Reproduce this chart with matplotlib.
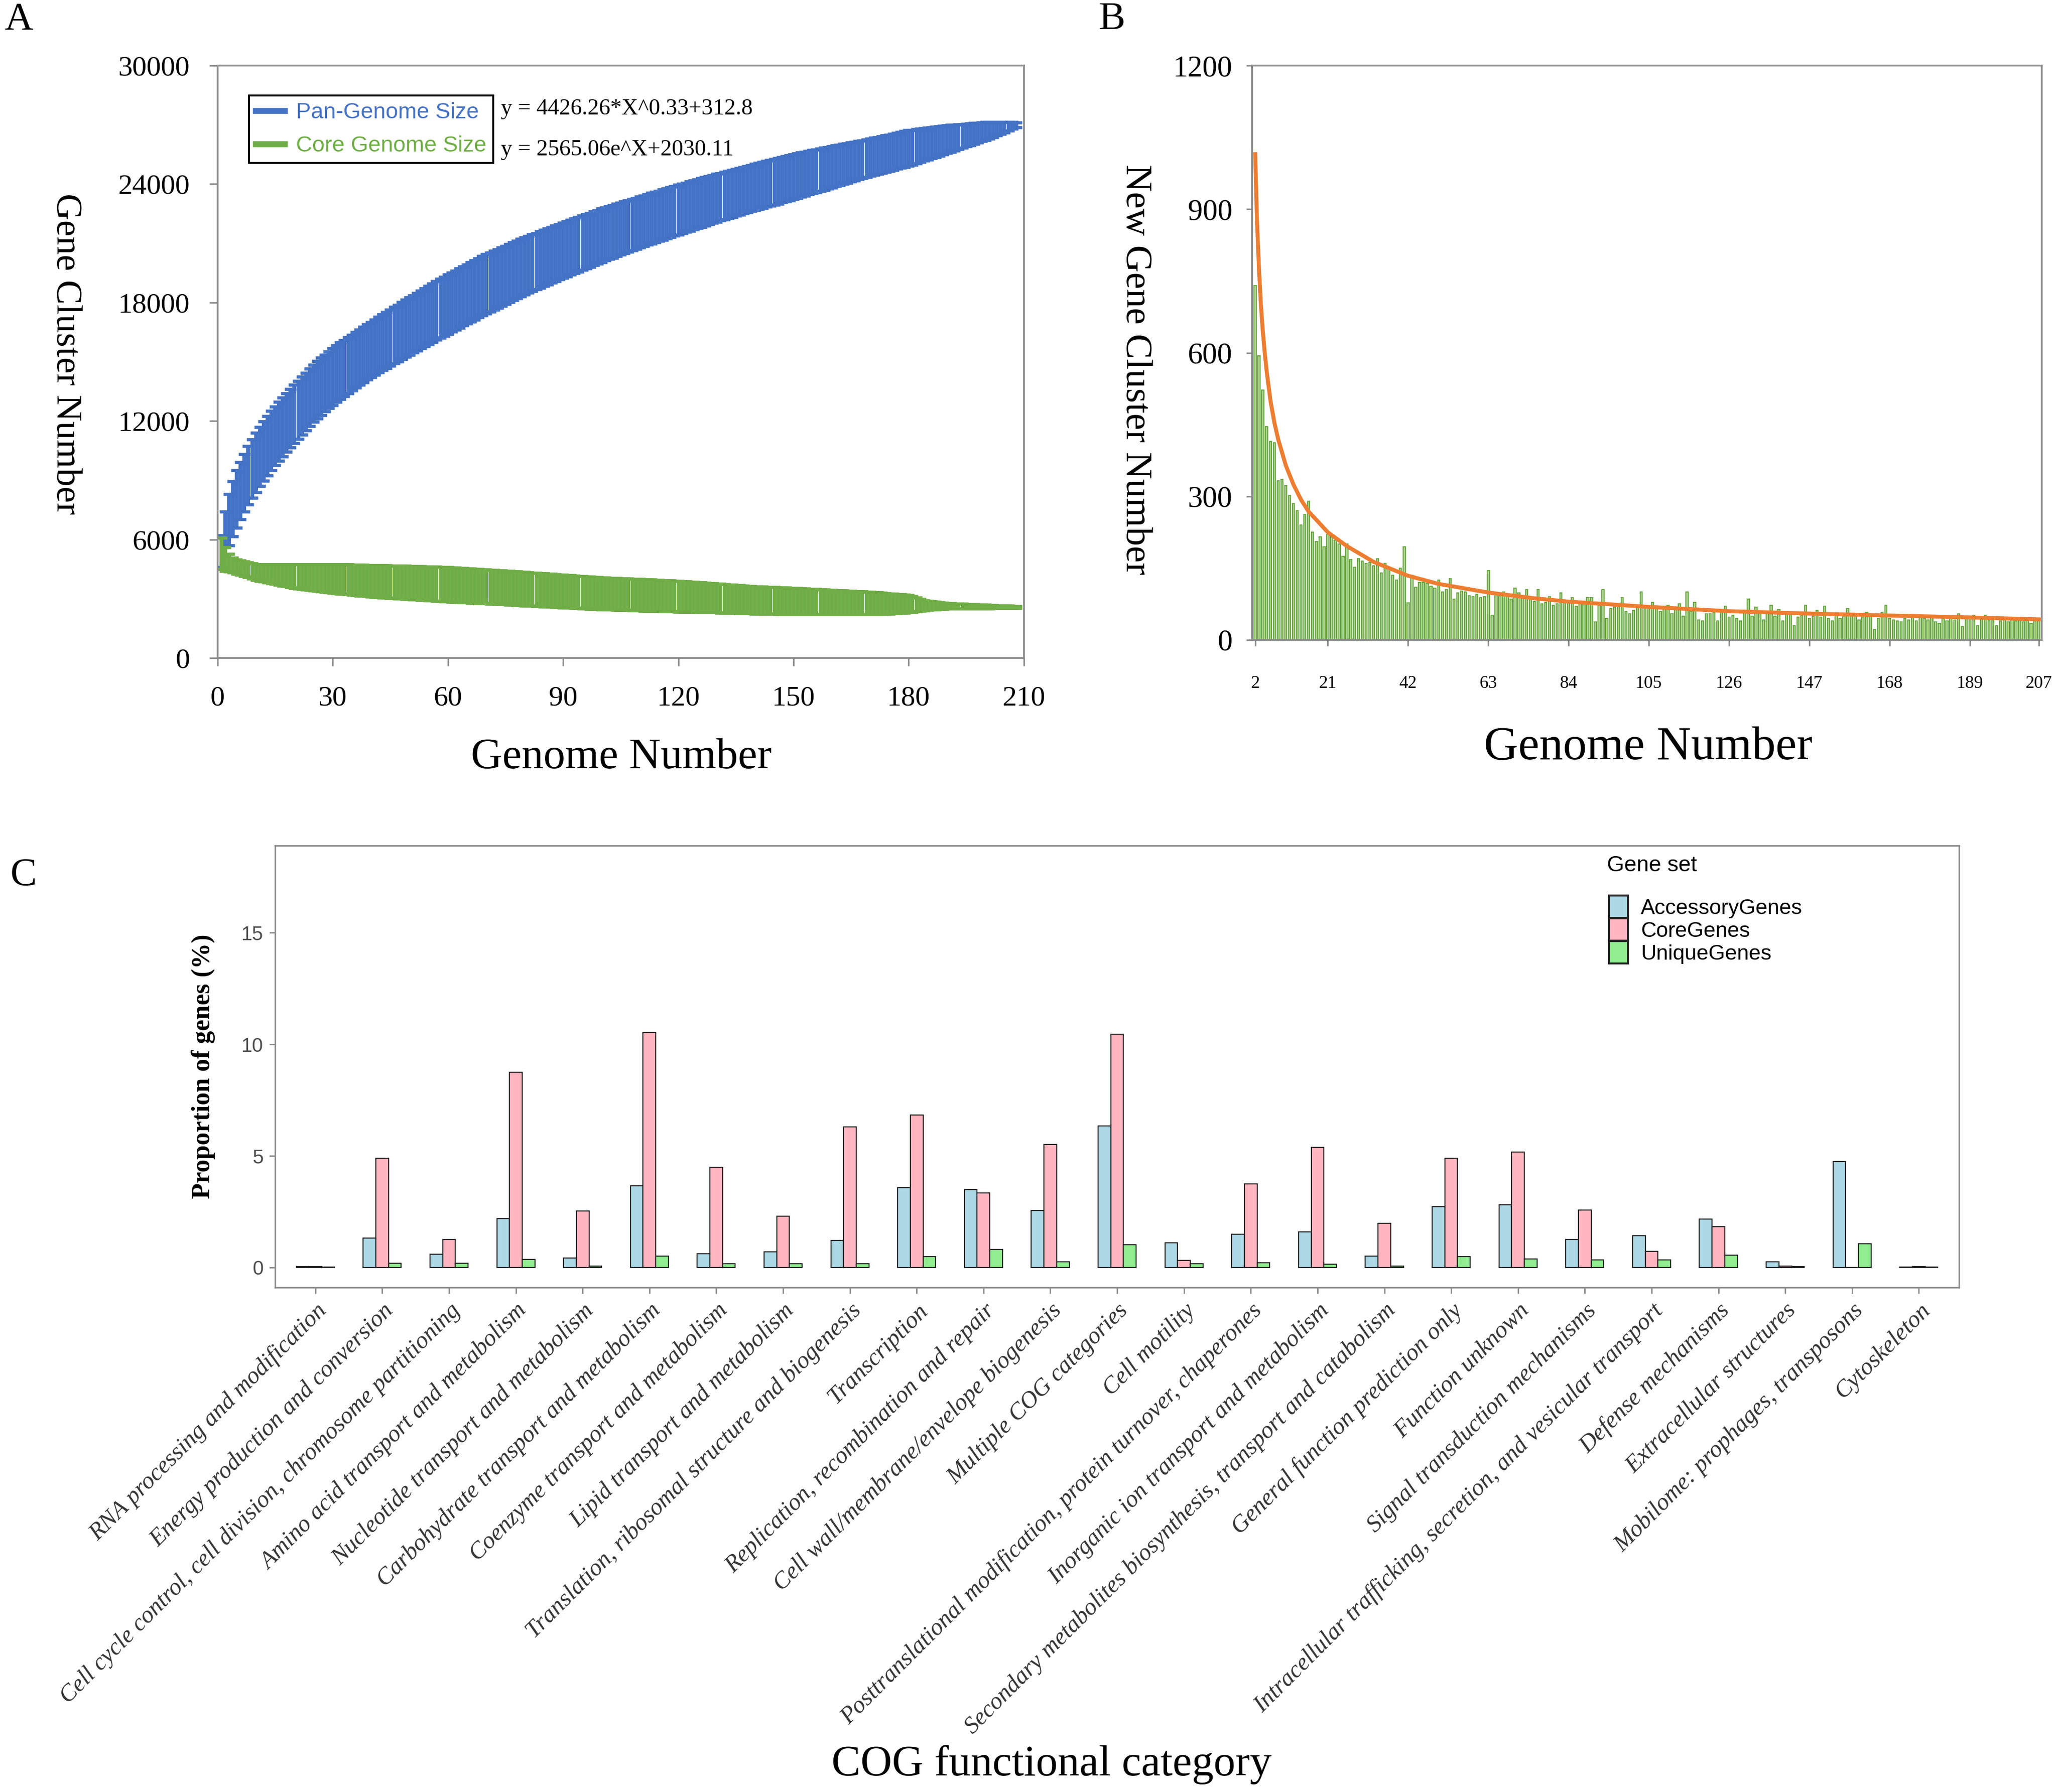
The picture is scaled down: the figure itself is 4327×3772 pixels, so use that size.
import numpy as np
import matplotlib
matplotlib.use('Agg')
import matplotlib.pyplot as plt
from matplotlib.lines import Line2D

plt.rcParams['font.family'] = 'Liberation Serif'
SANS = 'Liberation Sans'

# ---------------------------------------------------------------------------
# panel A: pan / core genome size (mean and spread per genome number 1..208)
pan_mean = [5400, 6300, 7000, 7550, 8050, 8470, 8870, 9250, 9580, 9900,
            10200, 10480, 10750, 11010, 11250, 11480, 11700, 11920, 12140, 12350,
            12560, 12770, 12980, 13190, 13400, 13580, 13750, 13920, 14090, 14250,
            14400, 14540, 14680, 14820, 14960, 15100, 15230, 15360, 15490, 15620,
            15740, 15860, 15980, 16100, 16220, 16340, 16450, 16570, 16690, 16800,
            16910, 17020, 17140, 17250, 17360, 17470, 17590, 17700, 17810, 17920,
            18020, 18120, 18230, 18330, 18430, 18530, 18640, 18740, 18850, 18950,
            19040, 19130, 19220, 19310, 19400, 19490, 19580, 19670, 19760, 19850,
            19930, 20010, 20090, 20170, 20250, 20330, 20410, 20490, 20570, 20650,
            20720, 20800, 20870, 20950, 21020, 21100, 21170, 21250, 21320, 21400,
            21470, 21540, 21600, 21670, 21740, 21810, 21880, 21940, 22010, 22080,
            22140, 22200, 22270, 22330, 22390, 22450, 22510, 22580, 22640, 22700,
            22760, 22820, 22880, 22940, 23000, 23060, 23120, 23180, 23240, 23300,
            23350, 23410, 23460, 23520, 23570, 23630, 23680, 23740, 23790, 23850,
            23900, 23950, 24010, 24060, 24110, 24160, 24210, 24270, 24320, 24370,
            24420, 24470, 24520, 24570, 24620, 24670, 24720, 24770, 24820, 24870,
            24920, 24970, 25010, 25060, 25110, 25160, 25210, 25250, 25300, 25350,
            25400, 25440, 25490, 25540, 25580, 25630, 25680, 25730, 25770, 25820,
            25860, 25910, 25950, 26000, 26040, 26090, 26130, 26180, 26220, 26270,
            26310, 26350, 26390, 26430, 26470, 26520, 26560, 26600, 26640, 26680,
            26720, 26760, 26800, 26840, 26880, 26920, 26960, 27000]
pan_err = [800, 1100, 1300, 1400, 1450, 1450, 1460, 1470, 1480, 1500,
           1500, 1500, 1500, 1500, 1490, 1490, 1490, 1480, 1480, 1480,
           1470, 1470, 1460, 1460, 1450, 1450, 1450, 1440, 1440, 1440,
           1430, 1430, 1420, 1420, 1410, 1400, 1400, 1400, 1400, 1400,
           1400, 1410, 1410, 1420, 1420, 1430, 1430, 1440, 1440, 1450,
           1450, 1460, 1460, 1470, 1470, 1480, 1480, 1490, 1490, 1500,
           1500, 1500, 1500, 1500, 1500, 1500, 1500, 1500, 1500, 1500,
           1490, 1490, 1480, 1480, 1470, 1470, 1460, 1460, 1450, 1450,
           1440, 1440, 1430, 1430, 1420, 1420, 1410, 1410, 1400, 1400,
           1390, 1390, 1380, 1380, 1370, 1370, 1360, 1360, 1350, 1350,
           1340, 1340, 1330, 1320, 1320, 1310, 1300, 1300, 1290, 1290,
           1280, 1280, 1280, 1270, 1270, 1270, 1260, 1260, 1260, 1260,
           1250, 1250, 1240, 1240, 1230, 1230, 1220, 1220, 1210, 1210,
           1200, 1200, 1190, 1190, 1180, 1180, 1170, 1170, 1160, 1160,
           1160, 1160, 1150, 1150, 1150, 1150, 1140, 1140, 1140, 1140,
           1130, 1120, 1110, 1100, 1090, 1080, 1070, 1060, 1050, 1040,
           1030, 1020, 1010, 1000, 990, 980, 970, 960, 950, 940,
           935, 930, 925, 920, 915, 910, 910, 905, 905, 900,
           880, 860, 840, 820, 800, 780, 760, 740, 720, 700,
           680, 650, 620, 600, 570, 550, 520, 500, 470, 450,
           420, 380, 340, 300, 260, 220, 170, 120]
core_mean = [5300, 5000, 4820, 4710, 4630, 4570, 4510, 4460, 4400, 4350,
             4330, 4310, 4290, 4270, 4250, 4230, 4210, 4190, 4170, 4145,
             4130, 4120, 4110, 4100, 4085, 4075, 4060, 4050, 4035, 4025,
             4010, 4000, 3990, 3980, 3965, 3955, 3940, 3930, 3915, 3905,
             3895, 3885, 3880, 3870, 3860, 3850, 3840, 3835, 3825, 3815,
             3805, 3795, 3790, 3780, 3770, 3760, 3750, 3745, 3735, 3725,
             3715, 3700, 3690, 3680, 3670, 3660, 3645, 3635, 3625, 3615,
             3600, 3590, 3580, 3570, 3560, 3550, 3535, 3525, 3515, 3505,
             3490, 3480, 3470, 3455, 3445, 3430, 3420, 3410, 3395, 3385,
             3370, 3360, 3350, 3335, 3325, 3310, 3300, 3290, 3275, 3265,
             3260, 3250, 3245, 3235, 3230, 3220, 3215, 3210, 3200, 3195,
             3185, 3180, 3170, 3165, 3160, 3150, 3145, 3135, 3130, 3120,
             3110, 3100, 3090, 3085, 3075, 3065, 3055, 3045, 3040, 3030,
             3020, 3010, 3000, 2990, 2985, 2975, 2965, 2955, 2945, 2935,
             2930, 2925, 2915, 2910, 2905, 2900, 2895, 2885, 2880, 2875,
             2870, 2865, 2860, 2855, 2850, 2845, 2840, 2835, 2830, 2825,
             2820, 2815, 2810, 2805, 2800, 2795, 2790, 2785, 2780, 2775,
             2770, 2765, 2760, 2760, 2755, 2755, 2750, 2750, 2745, 2740,
             2720, 2700, 2680, 2665, 2660, 2655, 2650, 2645, 2640, 2640,
             2635, 2630, 2625, 2620, 2620, 2615, 2610, 2605, 2600, 2600,
             2595, 2595, 2590, 2590, 2585, 2585, 2580, 2580]
core_err = [800, 600, 450, 380, 360, 360, 370, 380, 390, 400,
            420, 440, 460, 480, 500, 520, 540, 560, 580, 600,
            610, 625, 640, 650, 665, 675, 690, 700, 715, 725,
            730, 740, 745, 755, 760, 770, 775, 785, 790, 800,
            805, 810, 815, 820, 820, 825, 830, 835, 835, 840,
            840, 845, 850, 850, 855, 855, 860, 860, 865, 865,
            865, 865, 865, 865, 860, 860, 860, 860, 860, 855,
            855, 855, 855, 850, 850, 850, 850, 850, 845, 845,
            845, 840, 840, 840, 835, 835, 830, 830, 825, 825,
            820, 820, 820, 815, 815, 815, 810, 810, 805, 805,
            805, 805, 800, 800, 800, 795, 795, 795, 795, 790,
            790, 790, 790, 785, 785, 785, 785, 780, 780, 780,
            775, 770, 765, 760, 755, 750, 745, 740, 735, 730,
            725, 720, 715, 710, 705, 700, 695, 690, 690, 685,
            683, 681, 679, 677, 675, 673, 671, 669, 667, 665,
            660, 655, 650, 645, 640, 635, 630, 625, 620, 615,
            610, 605, 600, 595, 590, 585, 580, 575, 570, 565,
            555, 545, 535, 520, 505, 495, 480, 470, 455, 440,
            400, 350, 300, 250, 230, 210, 190, 170, 150, 140,
            130, 125, 120, 115, 110, 105, 100, 95, 90, 85,
            80, 75, 70, 65, 60, 55, 50, 45]
pan_fit_label = 'y = 4426.26*X^0.33+312.8'
core_fit_label = 'y = 2565.06e^X+2030.11'

# panel B: new gene clusters for genome number 2..207 and the fitted curve
new_genes = [740, 594, 522, 446, 415, 412, 333, 335, 323, 302,
             285, 270, 240, 262, 290, 225, 205, 215, 195, 220,
             215, 208, 200, 175, 200, 168, 152, 170, 165, 160,
             162, 155, 170, 140, 160, 148, 135, 125, 150, 195,
             77, 135, 110, 120, 120, 118, 112, 108, 125, 100,
             105, 128, 85, 98, 102, 100, 92, 90, 95, 88,
             90, 145, 52, 95, 92, 100, 92, 85, 108, 98,
             88, 105, 85, 80, 105, 75, 78, 90, 72, 75,
             98, 78, 82, 88, 70, 80, 75, 88, 88, 38,
             72, 105, 45, 65, 68, 72, 88, 60, 55, 62,
             70, 100, 68, 70, 78, 65, 60, 70, 72, 55,
             68, 75, 50, 100, 60, 78, 42, 40, 55, 55,
             58, 40, 60, 70, 48, 52, 45, 40, 62, 85,
             50, 68, 55, 42, 60, 72, 50, 64, 40, 58,
             55, 30, 48, 52, 72, 45, 50, 62, 48, 70,
             45, 40, 55, 45, 50, 65, 55, 50, 42, 48,
             58, 50, 22, 45, 58, 72, 45, 42, 40, 38,
             45, 42, 48, 40, 48, 45, 42, 50, 38, 35,
             45, 40, 50, 42, 55, 28, 50, 48, 52, 30,
             45, 52, 42, 48, 30, 40, 45, 38, 42, 40,
             42, 38, 45, 35, 40, 42]
fit_x = [2, 2.5, 3, 3.5, 4, 4.5, 5, 6, 7, 8, 10, 12, 14, 16, 18.7, 21, 26, 33,
         42, 50, 63, 75, 84, 105, 126, 147, 168, 189, 207]
fit_y = [1015, 870, 775, 700, 645, 600, 562, 500, 455, 420, 365, 325, 293, 268,
         245, 225, 196, 163, 134, 117, 99, 87, 80, 69, 60, 55, 51, 47, 43]
b_xticks = [2, 21, 42, 63, 84, 105, 126, 147, 168, 189, 207]

# panel C: COG categories
categories = ['RNA processing and modification',
              'Energy production and conversion',
              'Cell cycle control, cell division, chromosome partitioning',
              'Amino acid transport and metabolism',
              'Nucleotide transport and metabolism',
              'Carbohydrate transport and metabolism',
              'Coenzyme transport and metabolism',
              'Lipid transport and metabolism',
              'Translation, ribosomal structure and biogenesis',
              'Transcription',
              'Replication, recombination and repair',
              'Cell wall/membrane/envelope biogenesis',
              'Multiple COG categories',
              'Cell motility',
              'Posttranslational modification, protein turnover, chaperones',
              'Inorganic ion transport and metabolism',
              'Secondary metabolites biosynthesis, transport and catabolism',
              'General function prediction only',
              'Function unknown',
              'Signal transduction mechanisms',
              'Intracellular trafficking, secretion, and vesicular transport',
              'Defense mechanisms',
              'Extracellular structures',
              'Mobilome: prophages, transposons',
              'Cytoskeleton']
accessory = [0.04, 1.32, 0.59, 2.19, 0.42, 3.65, 0.62, 0.70, 1.21, 3.57, 3.48, 2.56, 6.35,
             1.10, 1.49, 1.60, 0.51, 2.72, 2.81, 1.26, 1.43, 2.16, 0.25, 4.75, 0.02]
core = [0.05, 4.89, 1.26, 8.74, 2.53, 10.53, 4.49, 2.30, 6.29, 6.83, 3.34, 5.51, 10.45,
        0.31, 3.74, 5.39, 1.97, 4.89, 5.17, 2.58, 0.73, 1.83, 0.06, 0.00, 0.03]
unique = [0.01, 0.20, 0.20, 0.37, 0.06, 0.50, 0.17, 0.17, 0.17, 0.48, 0.81, 0.25, 1.01,
          0.17, 0.22, 0.14, 0.06, 0.48, 0.39, 0.34, 0.34, 0.56, 0.03, 1.07, 0.01]
gene_sets = ['AccessoryGenes', 'CoreGenes', 'UniqueGenes']

# colours
blue = '#4472C4'
green = '#70AD47'
orange = '#ED7D31'
grey = '#8c8c8c'
set_cols = ['#ADD8E6', '#FFB6C1', '#90EE90']

fig = plt.figure(figsize=(4327/300, 3772/300), dpi=300)

# ------------------------------- panel A -----------------------------------
axA = fig.add_axes([0.1058, 0.6328, 0.3922, 0.3306])
genome = np.arange(1, len(pan_mean)+1)
axA.errorbar(genome, pan_mean, yerr=pan_err, fmt='none', ecolor=blue,
             elinewidth=1.9, capsize=2.8, capthick=1.6)
axA.errorbar(genome, core_mean, yerr=core_err, fmt='none', ecolor=green,
             elinewidth=1.9, capsize=2.8, capthick=1.6)
axA.set_xlim(0, 210)
axA.set_ylim(0, 30000)
axA.set_xticks(np.arange(0, 211, 30))
axA.set_yticks(np.arange(0, 30001, 6000))
axA.tick_params(labelsize=14.5, length=4, width=0.8, color=grey, pad=10)
for s in axA.spines.values():
    s.set_color(grey)
    s.set_linewidth(0.9)
handles = [Line2D([0], [0], color=blue, lw=3), Line2D([0], [0], color=green, lw=3)]
leg = axA.legend(handles, ['Pan-Genome Size', 'Core Genome Size'], loc='upper left',
                 bbox_to_anchor=(0.1211, 0.9467), bbox_transform=fig.transFigure,
                 prop={'family': SANS, 'size': 11.3}, fancybox=False, edgecolor='black',
                 framealpha=1, borderpad=0.3, handlelength=1.3, handletextpad=0.5,
                 labelspacing=0.55, borderaxespad=0)
leg.get_frame().set_linewidth(1.0)
for t, c in zip(leg.get_texts(), [blue, green]):
    t.set_color(c)
axA.text(0.3512, 0.927, pan_fit_label, transform=axA.transAxes, fontsize=11.5, va='center')
axA.text(0.3512, 0.858, core_fit_label, transform=axA.transAxes, fontsize=11.5, va='center')
fig.text(0.3023, 0.5771, 'Genome Number', ha='center', va='center', fontsize=22)
fig.text(0.0319, 0.8025, 'Gene Cluster Number', ha='center', va='center', fontsize=18.5, rotation=270)

# ------------------------------- panel B -----------------------------------
axB = fig.add_axes([0.6090, 0.6429, 0.3841, 0.3205])
new_x = np.arange(2, 2+len(new_genes))
axB.bar(new_x, new_genes, width=0.55, color='#b5d99c', edgecolor='#6aa843', linewidth=0.55)
axB.plot(fit_x, fit_y, color=orange, lw=2.0, zorder=3)
axB.set_xlim(1.2, 207.8)
axB.set_ylim(0, 1200)
axB.set_xticks(b_xticks)
axB.set_yticks(np.arange(0, 1201, 300))
axB.tick_params(axis='x', labelsize=9, length=3, width=0.8, color=grey, pad=15)
axB.tick_params(axis='y', labelsize=15, length=3, width=0.8, color=grey, pad=7)
for s in axB.spines.values():
    s.set_color(grey)
    s.set_linewidth(0.9)
fig.text(0.8017, 0.583, 'Genome Number', ha='center', va='center', fontsize=24)
fig.text(0.5523, 0.7937, 'New Gene Cluster Number', ha='center', va='center', fontsize=19, rotation=270)

# ------------------------------- panel C -----------------------------------
axC = fig.add_axes([0.1339, 0.2815, 0.8189, 0.2466])
xc = np.arange(1, len(categories)+1)
w = 0.19
for k, (vals, lab) in enumerate(zip([accessory, core, unique], gene_sets)):
    axC.bar(xc + (k-1)*w, vals, w, color=set_cols[k], edgecolor='#222222', linewidth=0.55, label=lab)
axC.set_xlim(0.4, len(categories)+0.6)
axC.set_ylim(-0.9, 18.9)
axC.set_yticks([0, 5, 10, 15])
axC.set_yticklabels(['0', '5', '10', '15'], family=SANS, fontsize=10, color='#4d4d4d')
axC.set_xticks(xc)
axC.set_xticklabels(categories, rotation=45, ha='right', va='top', rotation_mode='anchor',
                    fontstyle='italic', fontsize=12.2, color='#333333')
axC.tick_params(length=3, width=0.7, color=grey, pad=3)
for s in axC.spines.values():
    s.set_color(grey)
    s.set_linewidth(0.8)
legC = axC.legend(loc='upper left', bbox_to_anchor=(0.7825, 0.5003),
                  bbox_transform=fig.transFigure, frameon=False,
                  prop={'family': SANS, 'size': 10.8},
                  handlelength=0.9, handleheight=1.25,
                  labelspacing=0.0, handletextpad=0.6, borderaxespad=0, borderpad=0)
for p in legC.get_patches():
    p.set_linewidth(1.0)
fig.text(0.7815, 0.5170, 'Gene set', ha='left', va='center', family=SANS, fontsize=11.2)
fig.text(0.0989, 0.405, 'Proportion of genes (%)', ha='center', va='center',
         fontsize=13, fontweight='bold', rotation=90)
fig.text(0.5115, 0.0153, 'COG functional category', ha='center', va='center', fontsize=22)

# panel letters
fig.text(0.002, 0.989, 'A', fontsize=20, ha='left', va='center')
fig.text(0.5408, 0.989, 'B', fontsize=20, ha='center', va='center')
fig.text(0.0115, 0.5114, 'C', fontsize=20, ha='center', va='center')

fig.savefig('out.png', dpi=300)
